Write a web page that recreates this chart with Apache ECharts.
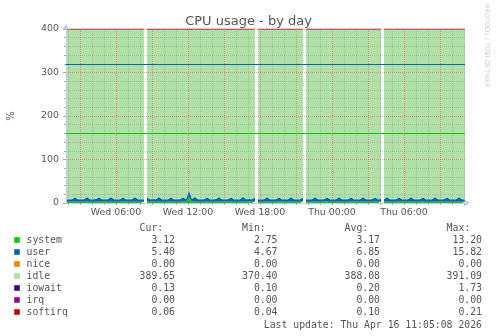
<!DOCTYPE html>
<html><head><meta charset="utf-8">
<script src="https://cdn.jsdelivr.net/npm/echarts@6/dist/echarts.min.js"></script>
<style>html,body{margin:0;padding:0;background:#fff}#c{width:497px;height:336px}</style>
</head><body><div id="c"></div>
<script>
// ---------- data ----------
const titleText = 'CPU usage - by day';
const seriesNames = ['system','user','nice','idle','iowait','irq','softirq'];
const curVals = ['3.12','5.40','0.00','389.65','0.13','0.00','0.06'];
const minVals = ['2.75','4.67','0.00','370.40','0.10','0.00','0.04'];
const avgVals = ['3.17','6.85','0.00','388.08','0.20','0.00','0.10'];
const maxVals = ['13.20','15.82','0.00','391.09','1.73','0.00','0.21'];
const xTickLabels = ['Wed 06:00','Wed 12:00','Wed 18:00','Thu 00:00','Thu 06:00'];
const yTickValues = [0,100,200,300,400];
const hruleValues = [320,160];
const gapSlots = ['Wed 08:25','Wed 17:40','Wed 21:45','Thu 04:10'];
const lastUpdate = 'Last update: Thu Apr 16 11:05:08 2026';
const watermark = 'RRDTOOL / TOBI OETIKER';
const totalPct = 400; // 4 CPUs, stack reaches 400%

// 15-minute samples from Wed 01:50 to Thu 11:05 (rows = :05 :20 :35 :50 of each hour)
const system = [3.1,
 3.0,3.1,3.6,3.0, 3.1,3.0,3.5,3.1, 3.0,3.1,3.7,3.0, 3.2,3.0,3.5,3.1, 3.1,3.0,3.6,3.2, 3.0,3.1,3.5,3.0,
 3.1,3.0,3.6,3.1, 3.2,3.1,3.5,3.0, 3.0,3.1,3.6,3.1, 3.1,3.0,3.5,3.2, 13.2,3.4,3.6,3.0, 3.1,3.0,3.5,3.1,
 3.0,3.1,3.6,3.0, 3.1,3.2,3.5,3.1, 3.0,3.1,3.7,3.0, 3.2,3.0,3.5,3.1, 3.1,3.0,3.6,3.0, 3.0,3.1,3.5,3.2,
 3.1,3.0,3.6,3.1, 3.0,3.1,3.5,3.0, 3.1,3.0,3.6,3.1, 3.0,3.2,3.5,3.0,
 3.1,3.0,3.6,3.1, 3.0,3.1,3.5,3.0, 3.2,3.0,3.6,3.1, 3.1,3.0,3.5,3.0, 3.0,3.1,3.6,3.1, 3.1,3.0,3.5,3.2,
 3.0,3.1,3.6,3.0, 3.1,3.0,3.5,3.1, 3.0,3.1,3.6,3.0, 3.2,3.0,3.5,3.1, 3.1,3.0,3.6,3.0,
 3.1];
const user = [5.6,
 5.4,5.8,9.6,5.5, 5.7,5.5,10.2,5.6, 5.5,5.9,9.8,5.4, 5.6,5.5,10.4,5.8, 5.7,5.6,9.9,5.5, 5.5,5.8,10.1,5.6,
 5.6,5.4,9.7,5.7, 5.8,5.5,10.3,5.6, 5.5,5.7,9.9,5.5, 5.6,5.8,10.0,6.2, 15.8,6.4,10.2,5.7, 5.6,5.5,9.8,5.6,
 5.7,5.9,10.1,5.5, 5.5,5.6,9.9,5.8, 5.6,5.5,10.4,5.6, 5.8,5.7,9.8,5.5, 5.5,5.6,10.0,5.7, 5.6,5.8,9.7,5.5,
 5.7,5.5,10.2,5.6, 5.5,5.6,9.9,5.4, 5.6,5.7,10.1,5.5, 5.8,5.5,9.8,5.6,
 5.5,5.6,10.0,5.7, 5.6,5.8,9.9,5.5, 5.7,5.5,10.3,5.6, 5.5,5.6,9.8,5.5, 6.0,5.7,10.1,5.6, 5.6,5.5,9.9,5.7,
 5.5,5.8,10.2,5.5, 5.7,5.6,9.8,5.6, 5.6,5.5,10.0,5.4, 5.5,5.7,9.9,5.6, 5.8,5.5,10.1,5.5,
 5.4];
const iowait = [0.2,
 0.2,0.2,0.3,0.2, 0.2,0.2,0.2,0.2, 0.2,0.1,0.3,0.2, 0.2,0.2,0.2,0.2, 0.2,0.2,0.3,0.2, 0.2,0.2,0.2,0.1,
 0.2,0.2,0.3,0.2, 0.2,0.2,0.2,0.2, 0.2,0.2,0.3,0.2, 0.2,0.1,0.2,0.2, 1.7,0.3,0.3,0.2, 0.2,0.2,0.2,0.2,
 0.2,0.2,0.3,0.2, 0.2,0.2,0.2,0.2, 0.1,0.2,0.3,0.2, 0.2,0.2,0.2,0.2, 0.2,0.2,0.3,0.2, 0.2,0.2,0.2,0.1,
 0.2,0.2,0.3,0.2, 0.2,0.2,0.2,0.2, 0.2,0.2,0.3,0.2, 0.2,0.1,0.2,0.2,
 0.2,0.2,0.3,0.2, 0.2,0.2,0.2,0.2, 0.2,0.2,0.3,0.2, 0.2,0.2,0.2,0.2, 0.2,0.2,0.3,0.2, 0.1,0.2,0.2,0.2,
 0.2,0.2,0.3,0.2, 0.2,0.2,0.2,0.2, 0.2,0.2,0.3,0.2, 0.2,0.2,0.2,0.2, 0.2,0.2,0.3,0.2,
 0.1];
const softirq = [0.1,
 0.1,0.1,0.1,0.1, 0.1,0.1,0.1,0.1, 0.1,0.1,0.1,0.1, 0.1,0.1,0.1,0.1, 0.1,0.1,0.1,0.1, 0.1,0.1,0.1,0.1,
 0.1,0.1,0.1,0.1, 0.1,0.1,0.1,0.1, 0.1,0.1,0.1,0.1, 0.1,0.1,0.1,0.1, 0.2,0.1,0.1,0.1, 0.1,0.1,0.1,0.1,
 0.1,0.1,0.1,0.1, 0.1,0.1,0.1,0.1, 0.1,0.1,0.1,0.1, 0.1,0.1,0.1,0.1, 0.1,0.1,0.1,0.1, 0.1,0.1,0.1,0.1,
 0.1,0.1,0.1,0.1, 0.1,0.1,0.1,0.1, 0.1,0.1,0.1,0.1, 0.1,0.1,0.1,0.1,
 0.1,0.1,0.1,0.1, 0.1,0.1,0.1,0.1, 0.1,0.1,0.1,0.1, 0.1,0.1,0.1,0.1, 0.1,0.1,0.1,0.1, 0.1,0.1,0.1,0.1,
 0.1,0.1,0.1,0.1, 0.1,0.1,0.1,0.1, 0.1,0.1,0.1,0.1, 0.1,0.1,0.1,0.1, 0.1,0.1,0.1,0.1,
 0.1];
const nice = system.map(() => 0);   // all 0.00
const irq = system.map(() => 0);    // all 0.00

// ---------- styles ----------
const colors = ['#00cc00','#0066b3','#ff8000','#b1dfa8','#330099','#990099','#cc0000'];
const hruleColors = ['#0066b3','#00cc00'];
const textColor = '#555';
const axisColor = '#c6cbee';
const sans = '"DejaVu Sans", sans-serif';
const mono = '"DejaVu Sans Mono", monospace';

// ---------- time slots (5 min) ----------
const startMin = 110, endMin = 1440 + 665;
function slotName(m){ const d = m < 1440 ? 'Wed' : 'Thu'; const mm = m % 1440;
  return d + ' ' + String(Math.floor(mm/60)).padStart(2,'0') + ':' + String(mm%60).padStart(2,'0'); }
const slots = []; for (let m = startMin; m <= endMin; m += 5) slots.push(slotName(m));
const sampleTimes = []; for (let m = startMin; m <= endMin; m += 15) sampleTimes.push(slotName(m));
const slotIndex = {}; slots.forEach((s,i) => slotIndex[s] = i);
const isHour = v => v.endsWith(':00');
const is3Hour = v => isHour(v) && (parseInt(v.slice(4,6),10) % 3 === 0);

const idle = sampleTimes.map((t,i) => +(totalPct - system[i] - user[i] - nice[i] - iowait[i] - irq[i] - softirq[i]).toFixed(2));
const seriesVals = [system, user, nice, idle, iowait, irq, softirq];

function build(vals){
  const arr = sampleTimes.map((t,i) => [t, vals[i]]);
  gapSlots.forEach(g => arr.push([g, null]));
  arr.sort((a,b) => slotIndex[a[0]] - slotIndex[b[0]]);
  return arr;
}

const series = seriesNames.map((n, k) => ({
  name: n, type: 'line', stack: 'cpu', data: build(seriesVals[k]),
  symbol: 'none', showSymbol: false, connectNulls: false,
  lineStyle: k === 6 ? { width: 1, color: '#b0103a' } : { width: 0 },
  areaStyle: { color: colors[k], opacity: 1 },
  itemStyle: { color: colors[k] },
  emphasis: { disabled: true }, silent: true, z: 2
}));
series[6].markLine = {
  silent: true, symbol: 'none', label: { show: false },
  data: hruleValues.map((v,i) => ({ yAxis: v, lineStyle: { color: hruleColors[i], width: 1, type: 'solid' } }))
};

// ---------- legend/table graphics ----------
const graphic = [];
const rowY0 = 240, rowH = 12;
const colRight = [175, 277.5, 380, 482];
const headers = ['Cur:','Min:','Avg:','Max:'];
headers.forEach((h,i) => graphic.push({ type:'text', x: colRight[i] - 11.8, y: 228,
  style: { text: h, font: '9.8px ' + mono, fill: textColor, align: 'right', verticalAlign: 'middle' } }));
seriesNames.forEach((n,k) => {
  const y = rowY0 + k*rowH;
  graphic.push({ type:'rect', shape: { x: 14, y: y-3, width: 6, height: 6 }, style: { fill: colors[k], stroke: '#e8e8e8', lineWidth: 0.5 } });
  graphic.push({ type:'text', x: 26.5, y: y, style: { text: n, font: '9.8px ' + mono, fill: textColor, align: 'left', verticalAlign: 'middle' } });
  [curVals, minVals, avgVals, maxVals].forEach((arr,i) => graphic.push({ type:'text', x: colRight[i], y: y,
    style: { text: arr[k], font: '9.8px ' + mono, fill: textColor, align: 'right', verticalAlign: 'middle' } }));
});
graphic.push({ type:'text', x: 482, y: 325, style: { text: lastUpdate, font: '9.8px ' + mono, fill: textColor, align: 'right', verticalAlign: 'middle' } });
graphic.push({ type:'text', x: 487, y: 4, rotation: -Math.PI/2,
  style: { text: watermark, font: '6.5px ' + sans, fill: '#cfcfcf', align: 'left', verticalAlign: 'middle' } });

const chart = echarts.init(document.getElementById('c'), null, { renderer: 'canvas' });
chart.setOption({
  animation: false,
  backgroundColor: '#fff',
  title: { text: titleText, left: 'center', top: 10, textStyle: { fontFamily: sans, fontSize: 13, fontWeight: 'normal', color: textColor } },
  grid: { left: 66, top: 29, width: 399, height: 174, containLabel: false, outerBoundsMode: 'none' },
  xAxis: [{
    type: 'category', data: slots, boundaryGap: false, z: 3,
    axisLine: { show: true, onZero: false, lineStyle: { color: axisColor, width: 1 }, symbol: ['none','arrow'], symbolSize: [6,6], symbolOffset: [0,5] },
    axisTick: { show: true, interval: (i,v) => isHour(v), length: 2, lineStyle: { color: '#aaa' } },
    axisLabel: { interval: (i,v) => xTickLabels.includes(v), margin: 5, fontFamily: sans, fontSize: 9.4, color: textColor },
    splitLine: { show: true, interval: (i,v) => is3Hour(v), lineStyle: { color: 'rgba(235,90,90,0.6)', type: [1,1], width: 1 } }
  }, {
    type: 'category', data: slots, boundaryGap: false, z: 3,
    axisLine: { show: false }, axisTick: { show: false }, axisLabel: { show: false },
    splitLine: { show: true, interval: (i,v) => isHour(v) && !is3Hour(v), lineStyle: { color: 'rgba(110,110,110,0.28)', type: [1,1], width: 1 } }
  }],
  yAxis: {
    type: 'value', min: yTickValues[0], max: yTickValues[yTickValues.length-1], interval: 100, z: 3,
    name: '%', nameLocation: 'middle', nameGap: 50, nameRotate: 90,
    nameTextStyle: { fontFamily: sans, fontSize: 10, color: textColor },
    axisLine: { show: true, lineStyle: { color: axisColor, width: 1 }, symbol: ['none','arrow'], symbolSize: [6,6], symbolOffset: [0,5] },
    axisTick: { show: true, length: 3, lineStyle: { color: '#aaa' } },
    minorTick: { show: true, splitNumber: 5, length: 2, lineStyle: { color: '#aaa' } },
    axisLabel: { margin: 7, fontFamily: sans, fontSize: 9.4, color: textColor },
    splitLine: { show: true, lineStyle: { color: 'rgba(235,90,90,0.6)', type: [1,1], width: 1 } },
    minorSplitLine: { show: true, lineStyle: { color: 'rgba(110,110,110,0.28)', type: [1,1], width: 1 } }
  },
  series: series,
  graphic: graphic
});
</script>
</body></html>
